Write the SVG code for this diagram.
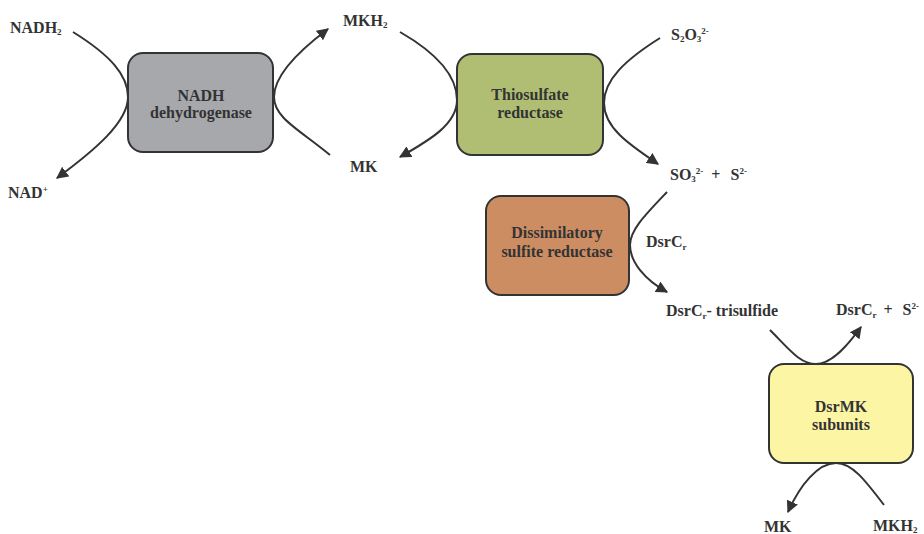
<svg xmlns="http://www.w3.org/2000/svg" width="924" height="534" viewBox="0 0 924 534">
<style>
text{font-family:"Liberation Serif","Times New Roman",serif;font-weight:bold;font-size:16px;fill:#333}
.c{text-anchor:middle}
.sub{font-size:9px}
.box{stroke:#333;stroke-width:2}
.ln{fill:none;stroke:#333;stroke-width:2}
</style>
<defs>
<marker id="ah" viewBox="0 0 10 10" refX="9" refY="5" markerWidth="6" markerHeight="6" markerUnits="strokeWidth" orient="auto">
<path d="M0,0 L10,5 L0,10 Z" fill="#333"/>
</marker>
</defs>
<rect width="924" height="534" fill="#fff"/>
<g id="connectors">
<path class="ln" d="M73,32 C110,55 128,75 128,97 C128,122 95,150 57,178" marker-end="url(#ah)"/>
<path class="ln" d="M330,155 C300,130 274,118 274,97 C274,75 300,50 328,29" marker-end="url(#ah)"/>
<path class="ln" d="M400,32 C440,55 457,78 457,100 C457,124 430,140 400,157" marker-end="url(#ah)"/>
<path class="ln" d="M660,38 C625,60 604,80 604,103 C604,128 630,145 658,164" marker-end="url(#ah)"/>
<path class="ln" d="M667,192 C645,215 630,230 630,245 C630,262 645,280 667,292" marker-end="url(#ah)"/>
<path class="ln" d="M770,330 C790,350 800,364 816,364 C832,364 848,345 861,327" marker-end="url(#ah)"/>
<path class="ln" d="M884,505 C865,480 852,463 836,463 C818,463 800,485 788,512" marker-end="url(#ah)"/>
</g>
<g id="nadh">
<rect class="box" x="128" y="53" width="145" height="99" rx="15" fill="#a7a8ac"/>
<text class="c" x="201" y="101">NADH</text>
<text class="c" x="201" y="118">dehydrogenase</text>
</g>
<g id="thio">
<rect class="box" x="457" y="54" width="146" height="101" rx="15" fill="#b0be74"/>
<text class="c" x="530" y="100">Thiosulfate</text>
<text class="c" x="530" y="118">reductase</text>
</g>
<g id="dsr">
<rect class="box" x="486" y="196" width="143" height="99" rx="15" fill="#cd8d62"/>
<text class="c" x="557" y="238">Dissimilatory</text>
<text class="c" x="557" y="257">sulfite reductase</text>
</g>
<g id="dsrmk">
<rect class="box" x="769" y="364" width="144" height="99" rx="15" fill="#fbf5a4"/>
<text class="c" x="841" y="412">DsrMK</text>
<text class="c" x="841" y="430">subunits</text>
</g>
<g id="labels">
<text x="10" y="33">NADH<tspan class="sub" dy="2">2</tspan></text>
<text x="8" y="198">NAD<tspan class="sub" dy="-6">+</tspan></text>
<text x="343" y="26">MKH<tspan class="sub" dy="2">2</tspan></text>
<text x="350" y="172">MK</text>
<text x="671" y="40">S<tspan class="sub" dy="2">2</tspan><tspan dy="-2">O</tspan><tspan class="sub" dy="2">3</tspan><tspan class="sub" dy="-8">2-</tspan></text>
<text x="670" y="180">SO<tspan class="sub" dy="2">3</tspan><tspan class="sub" dy="-8">2-</tspan><tspan dx="8" dy="6">+</tspan><tspan dx="10">S</tspan><tspan class="sub" dy="-6">2-</tspan></text>
<text x="646" y="247">DsrC<tspan class="sub" dy="3">r</tspan></text>
<text x="666" y="316">DsrC<tspan class="sub" dy="3">r</tspan><tspan dy="-3">- trisulfide</tspan></text>
<text x="836" y="315">DsrC<tspan class="sub" dy="3">r</tspan><tspan dx="7" dy="-3">+</tspan><tspan dx="10">S</tspan><tspan class="sub" dy="-6">2-</tspan></text>
<text x="764" y="532">MK</text>
<text x="873" y="531">MKH<tspan class="sub" dy="2">2</tspan></text>
</g>
</svg>
